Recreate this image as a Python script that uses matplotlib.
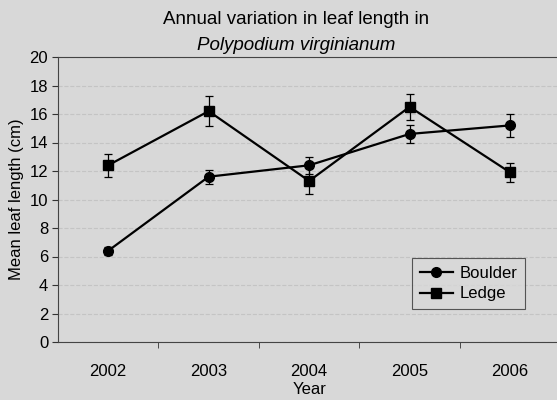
import matplotlib
matplotlib.use('Agg')
import matplotlib.pyplot as plt
import numpy as np

# Data
years = ['2002', '2003', '2004', '2005', '2006']
boulder = [6.4, 11.6, 12.4, 14.6, 15.2]
boulder_err = [0.3, 0.5, 0.6, 0.6, 0.8]
ledge = [12.4, 16.2, 11.3, 16.5, 11.9]
ledge_err = [0.8, 1.05, 0.9, 0.9, 0.65]

bg = '#d8d8d8'
plt.rcParams['font.family'] = ['Liberation Sans', 'DejaVu Sans']

fig = plt.figure(figsize=(5.57, 4.0), dpi=100, facecolor=bg)
ax = fig.add_axes([0.104, 0.145, 0.902, 0.7125], facecolor=bg)

x = np.arange(len(years))
# error bars drawn apart so the legend shows only line + marker
ax.errorbar(x, boulder, yerr=boulder_err, fmt='none', ecolor='black',
            elinewidth=0.9, capsize=3, capthick=0.9)
ax.errorbar(x, ledge, yerr=ledge_err, fmt='none', ecolor='black',
            elinewidth=0.9, capsize=3, capthick=0.9)
ax.plot(x, boulder, color='black', marker='o', markersize=7, linewidth=1.6, label='Boulder')
ax.plot(x, ledge, color='black', marker='s', markersize=7.5, linewidth=1.6, label='Ledge')

ax.set_xlim(-0.5, len(years) - 0.5)
ax.set_ylim(0, 20)
ax.set_yticks(range(0, 21, 2))
ax.set_xticks(x)
ax.set_xticklabels(years)
ax.set_xticks(np.arange(0.5, len(years) - 0.5, 1), minor=True)
ax.tick_params(axis='x', which='major', length=0, pad=16, labelsize=12)
ax.tick_params(axis='x', which='minor', length=4, direction='out', color='#333333')
ax.tick_params(axis='y', length=4, direction='out', color='#333333', labelsize=12, pad=3)

ax.grid(axis='y', color='#c4c4c4', linestyle='--', linewidth=0.8)
ax.set_axisbelow(True)
for side in ['left', 'bottom', 'top']:
    ax.spines[side].set_color('#444444')
    ax.spines[side].set_linewidth(0.8)
ax.spines['right'].set_visible(False)

ax.set_xlabel('Year', fontsize=12, labelpad=2)
ax.set_ylabel('Mean leaf length (cm)', fontsize=12, labelpad=4)

fig.text(0.531, 0.952, 'Annual variation in leaf length in', ha='center', va='center', fontsize=13.5)
fig.text(0.531, 0.887, 'Polypodium virginianum', ha='center', va='center', fontsize=13.5,
         style='italic')

leg = ax.legend(loc='lower left', bbox_to_anchor=(0.705, 0.116), borderaxespad=0,
                frameon=True, fancybox=False, fontsize=12, handlelength=2.0,
                handletextpad=0.4, borderpad=0.45, labelspacing=0.35)
leg.get_frame().set_facecolor(bg)
leg.get_frame().set_edgecolor('#333333')
leg.get_frame().set_linewidth(0.8)

fig.savefig('out.png', dpi=100, facecolor=bg)
